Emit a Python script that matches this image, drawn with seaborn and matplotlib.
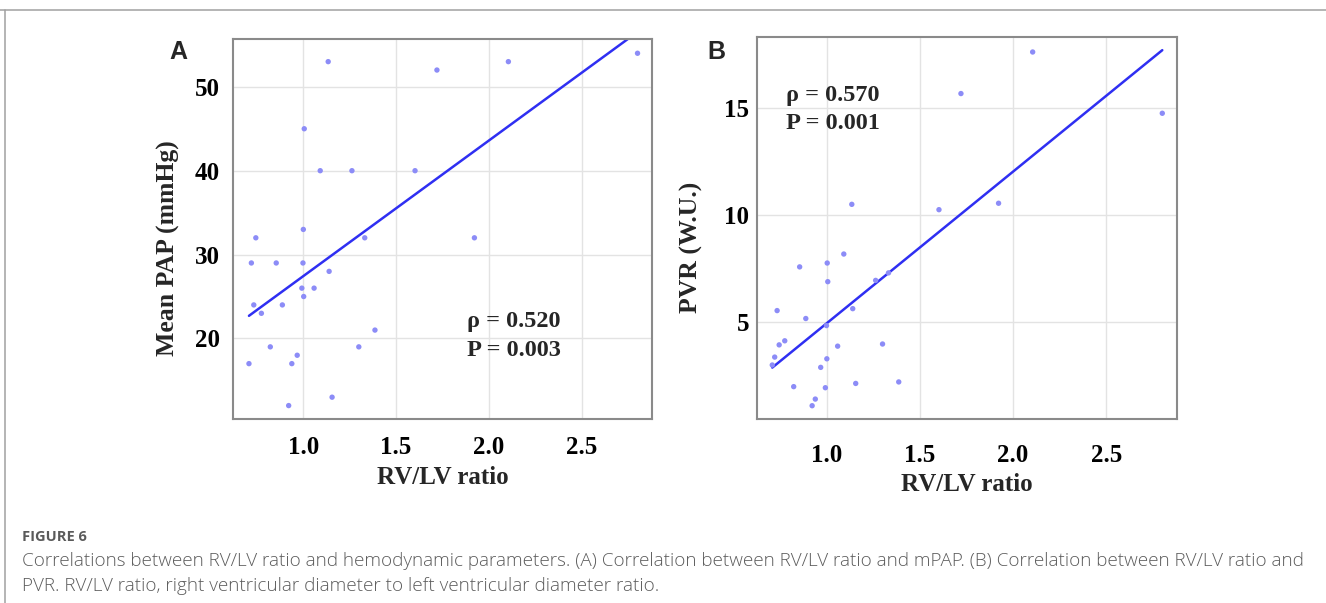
import numpy as np
import pandas as pd
import matplotlib
matplotlib.use('Agg')
import matplotlib.pyplot as plt
import seaborn as sns
from matplotlib.lines import Line2D

# values (one entry per patient)
rv_lv = [0.707, 0.720, 0.733, 0.744, 0.774, 0.822, 0.854, 0.887, 0.921, 0.938,
         0.967, 0.992, 0.998, 1.000, 1.002, 1.005, 1.058, 1.091, 1.134, 1.139,
         1.155, 1.262, 1.299, 1.331, 1.386, 1.602, 1.720, 1.922, 2.105, 2.801]
mpap = [17, 29, 24, 32, 23, 19, 29, 24, 12, 17,
        18, 26, 29, 33, 25, 45, 26, 40, 53, 28,
        13, 40, 19, 32, 21, 40, 52, 32, 53, 54]
pvr = [3.00, 3.37, 5.54, 3.94, 4.13, 1.99, 7.58, 5.17, 1.10, 1.41,
       2.89, 1.94, 4.84, 3.29, 7.76, 6.89, 3.88, 8.18, 10.50, 5.63,
       2.14, 6.95, 3.98, 7.30, 2.21, 10.25, 15.67, 10.55, 17.61, 14.75]

stats_a = "\u03c1 = 0.520\nP = 0.003"
stats_b = "\u03c1 = 0.570\nP = 0.001"

caption_head = "FIGURE 6"
caption_lines = [
    "Correlations between RV/LV ratio and hemodynamic parameters. (A) Correlation between RV/LV ratio and mPAP. (B) Correlation between RV/LV ratio and",
    "PVR. RV/LV ratio, right ventricular diameter to left ventricular diameter ratio.",
]

df = pd.DataFrame({"rv_lv": rv_lv, "mpap": mpap, "pvr": pvr})

sns.set_theme(style="whitegrid")
plt.rcParams['font.family'] = ['Liberation Serif', 'DejaVu Serif']

W, H = 1326, 603
fig = plt.figure(figsize=(W / 100, H / 100), dpi=100)
fig.patch.set_facecolor('white')


def px_axes(left, top, right, bottom):
    return fig.add_axes([left / W, 1 - bottom / H, (right - left) / W, (bottom - top) / H])


ax_a = px_axes(233, 39, 652, 419)
ax_b = px_axes(757, 37, 1177, 419)

dot_color = '#8c8cf7'
line_color = '#2f2ff2'

panels = [
    (ax_a, 'mpap', 'Mean PAP (mmHg)', (0.621, 2.879), (10.4, 55.7), [20, 30, 40, 50],
     stats_a, (1.884, 20.3), 5.5, 8, -0.154),
    (ax_b, 'pvr', 'PVR (W.U.)', (0.625, 2.880), (0.48, 18.31), [5, 10, 15],
     stats_b, (0.783, 14.94), 1.5, 14, -0.172),
]

for ax, col, ylab, xlim, ylim, yticks, stats, txt_xy, ypad, xpad, xlab_y in panels:
    sns.regplot(data=df, x='rv_lv', y=col, ax=ax, ci=None, scatter=False,
                line_kws=dict(color=line_color, lw=1.8))
    sns.scatterplot(data=df, x='rv_lv', y=col, ax=ax, color=dot_color,
                    s=15, edgecolor='none', zorder=3)
    ax.set_xlim(*xlim)
    ax.set_ylim(*ylim)
    ax.set_xticks([1.0, 1.5, 2.0, 2.5])
    ax.set_yticks(yticks)
    ax.grid(True, color='#e3e3e3', lw=1.0)
    for sp in ax.spines.values():
        sp.set_color('#8a8a8a')
        sp.set_linewidth(1.5)
    ax.tick_params(axis='both', which='major', direction='out', length=4, width=1,
                   color='#8a8a8a', labelsize=18, labelcolor='black')
    ax.tick_params(axis='y', pad=ypad)
    ax.tick_params(axis='x', pad=xpad)
    for lab in ax.get_xticklabels() + ax.get_yticklabels():
        lab.set_fontweight('bold')
    ax.set_xlabel('RV/LV ratio', fontsize=18, fontweight='bold', va='center')
    ax.set_ylabel(ylab, fontsize=18.5, fontweight='bold', va='center')
    ax.xaxis.set_label_coords(0.5, xlab_y)
    ax.yaxis.set_label_coords(-0.155, 0.45)
    ax.text(txt_xy[0], txt_xy[1], stats, fontsize=17.5, fontweight='bold',
            ha='left', va='center', linespacing=1.45)

# panel letters
for letter, x in [('A', 178), ('B', 716)]:
    fig.text(x / W, 1 - 52 / H, letter, family='Liberation Sans', fontweight='bold',
             fontsize=18, ha='center', va='center')

# page frame lines
fig.add_artist(Line2D([0, 1], [1 - 10 / H, 1 - 10 / H], transform=fig.transFigure,
                      color='#a0a0a0', lw=1.1))
fig.add_artist(Line2D([4.5 / W, 4.5 / W], [0, 1 - 10 / H], transform=fig.transFigure,
                      color='#a0a0a0', lw=1.1))

# caption
fig.text(21.5 / W, 1 - 537 / H, caption_head, family='Open Sans', fontweight='bold',
         fontsize=10.5, color='#5a5a5a', ha='left', va='center')
for i, line in enumerate(caption_lines):
    fig.text(21.5 / W, 1 - (561 + 25 * i) / H, line, family='Open Sans', fontweight='light',
             fontsize=13.6, color='#5c5c5c', ha='left', va='center')

fig.savefig('out.png', dpi=100, facecolor='white')
